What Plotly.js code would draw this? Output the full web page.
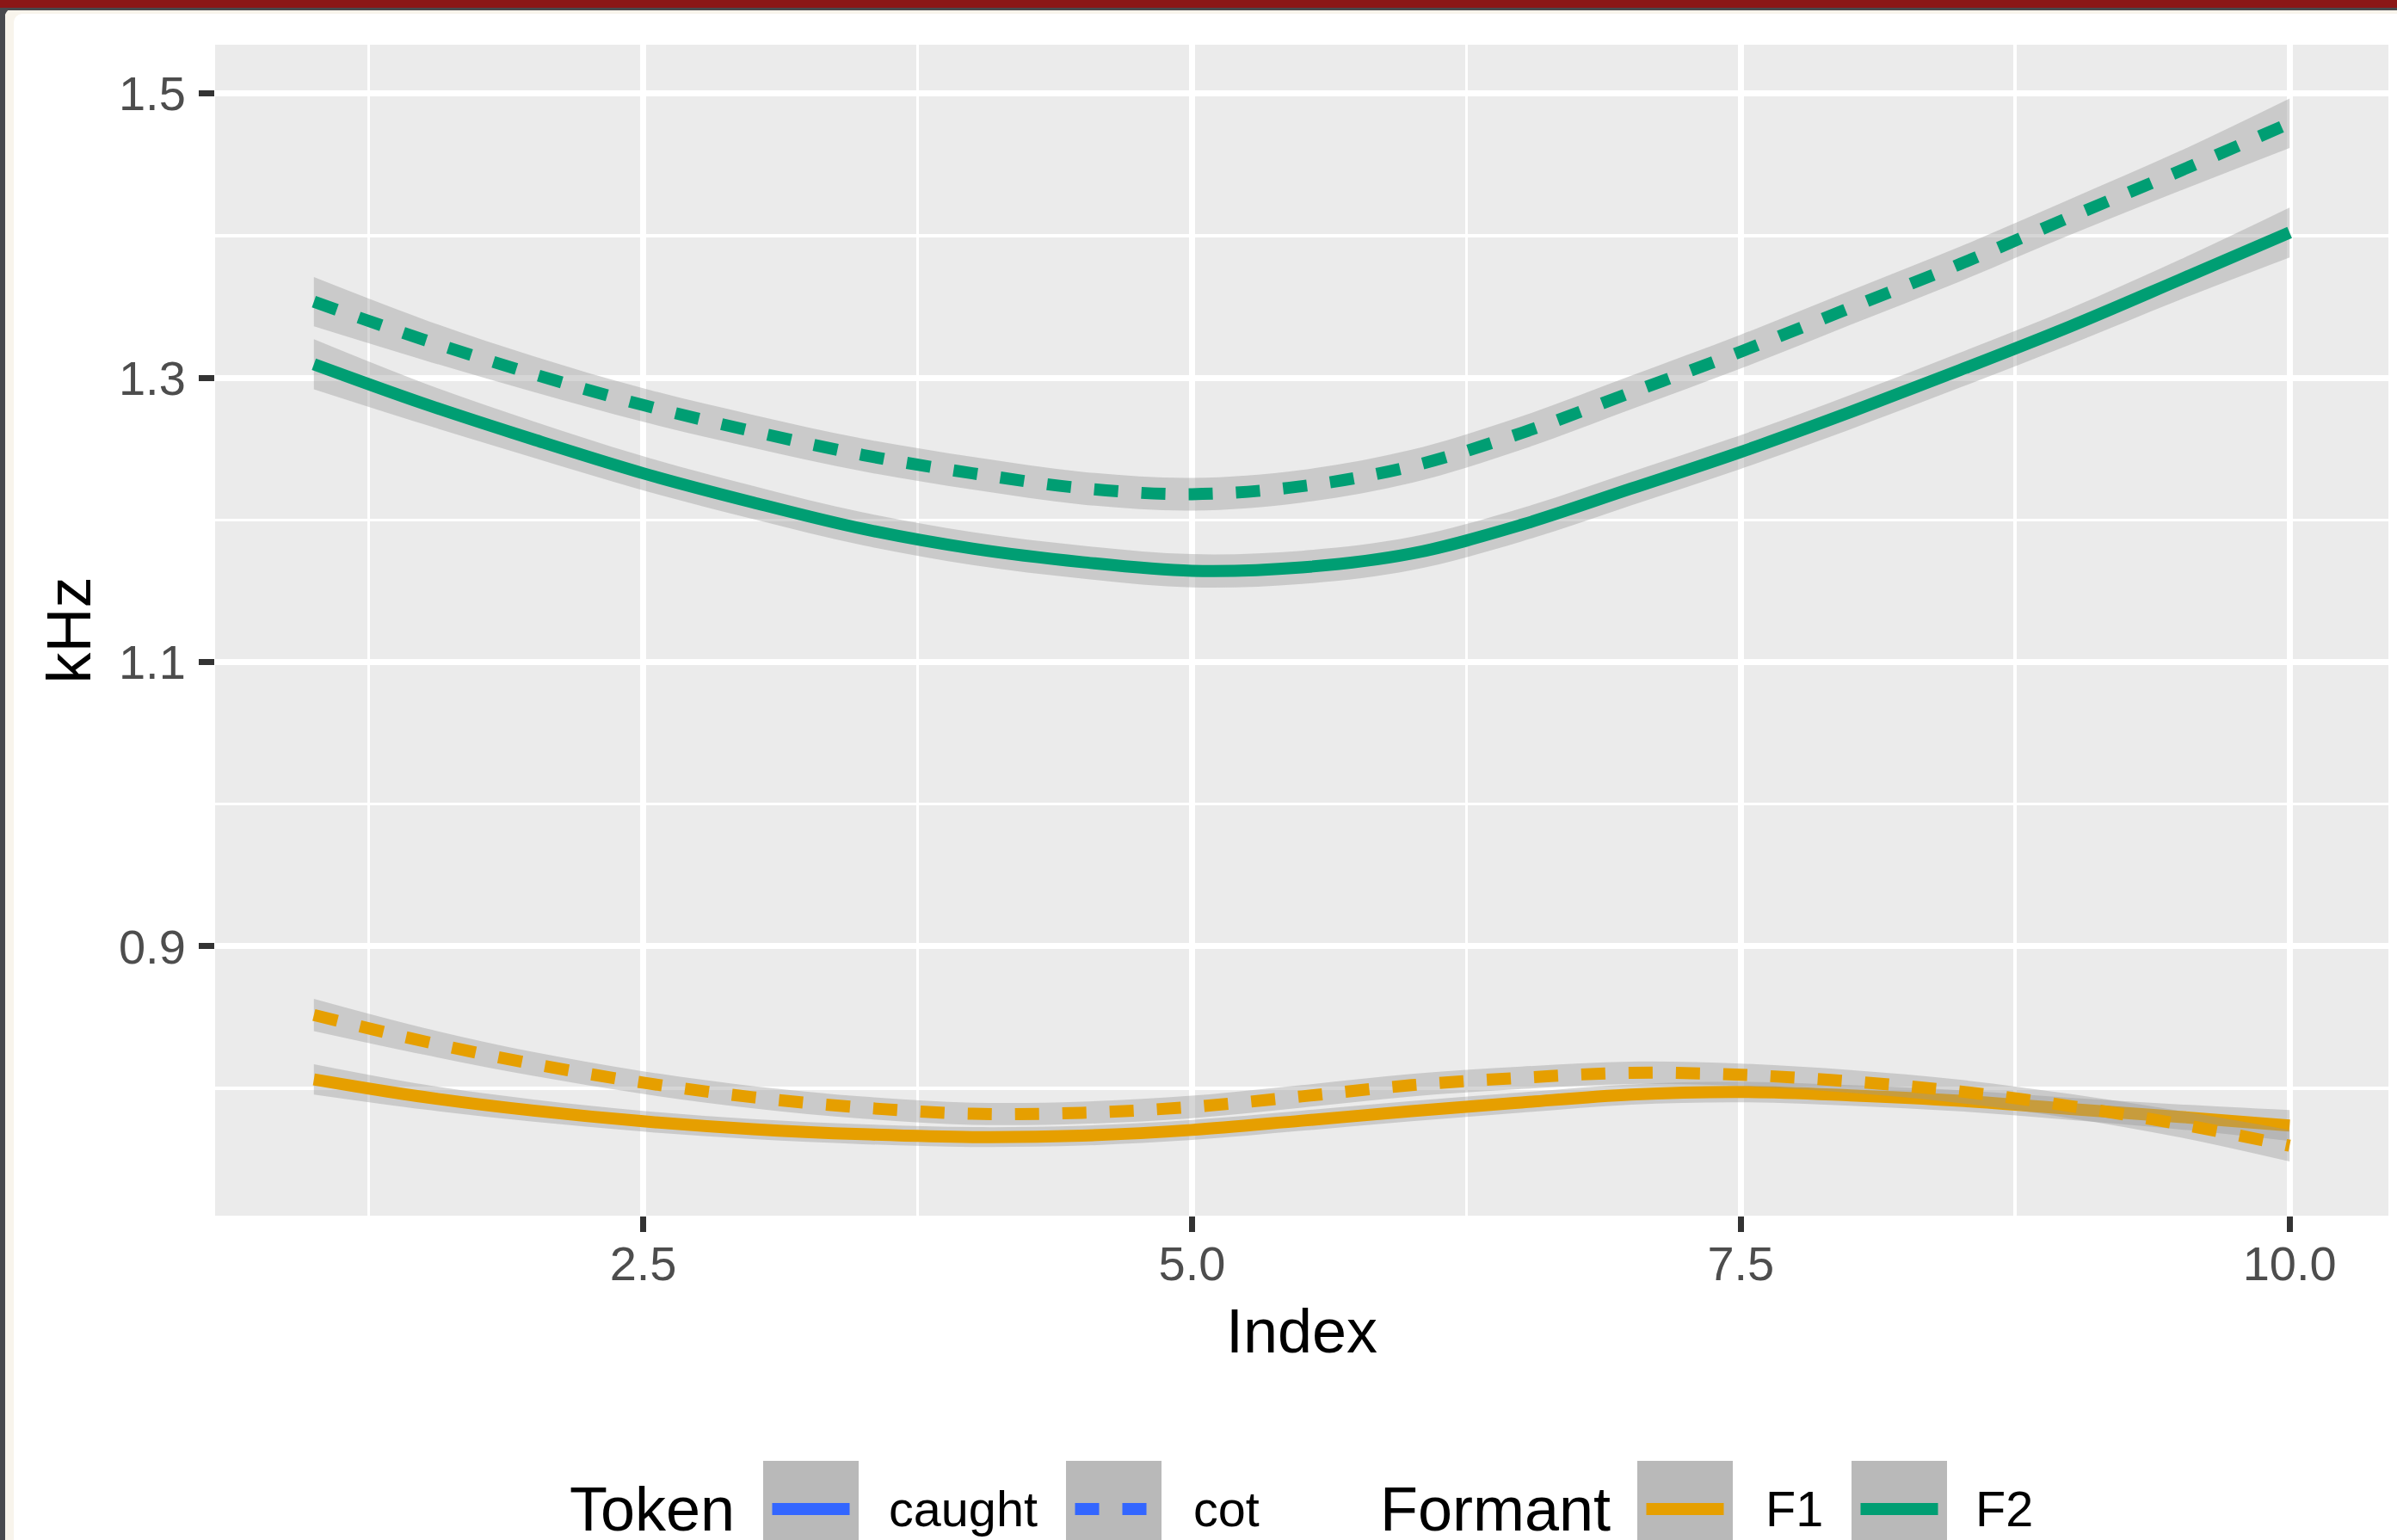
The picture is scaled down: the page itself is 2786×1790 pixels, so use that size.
<!DOCTYPE html>
<html>
<head>
<meta charset="utf-8">
<script src="https://cdn.plot.ly/plotly-3.0.1.min.js"></script>
<style>
html,body{margin:0;padding:0;background:#ffffff;overflow:hidden;width:2786px;height:1790px}
#chart{position:absolute;left:0;top:0;width:2786px;height:1790px}
.fr{position:absolute;pointer-events:none}
</style>
</head>
<body>
<div id="chart"></div>
<div class="fr" style="left:0;top:9px;width:16px;height:16px;background:#48494E;z-index:9"></div>
<div class="fr" style="left:16px;top:16px;width:2790px;height:1800px;border-top-left-radius:10px;box-shadow:0 0 0 12px #F8F4EC;z-index:10"></div>
<div class="fr" style="left:0;top:0;width:2786px;height:9px;background:#8B1717;z-index:12"></div>
<div class="fr" style="left:0;top:9px;width:2786px;height:3px;background:#48494E;z-index:11"></div>
<div class="fr" style="left:0;top:9px;width:6px;height:1781px;background:#48494E;z-index:11"></div>
<script>
// ---- data ----
const indexX = [1, 1.5, 2, 2.5, 3, 3.5, 4, 4.5, 5, 5.5, 6, 6.5, 7, 7.5, 8, 8.5, 9, 9.5, 10];

const f1Caught   = [0.8064, 0.7940, 0.7844, 0.7769, 0.7714, 0.7678, 0.7658, 0.7668, 0.7708, 0.7773, 0.7840, 0.7901, 0.7957, 0.7975, 0.7951, 0.7913, 0.7856, 0.7800, 0.7739];
const f1CaughtSe = [0.0107, 0.0088, 0.0078, 0.0073, 0.0071, 0.0070, 0.0070, 0.0070, 0.0071, 0.0071, 0.0071, 0.0071, 0.0071, 0.0072, 0.0072, 0.0074, 0.0078, 0.0088, 0.0109];

const f1Cot      = [0.8517, 0.8332, 0.8172, 0.8041, 0.7938, 0.7865, 0.7822, 0.7829, 0.7870, 0.7944, 0.8023, 0.8075, 0.8110, 0.8096, 0.8049, 0.7979, 0.7876, 0.7749, 0.7597];
const f1CotSe    = [0.0113, 0.0094, 0.0084, 0.0080, 0.0078, 0.0078, 0.0078, 0.0078, 0.0079, 0.0079, 0.0079, 0.0079, 0.0079, 0.0079, 0.0080, 0.0082, 0.0085, 0.0093, 0.0111];

const f2Caught   = [1.3095, 1.2818, 1.2566, 1.2328, 1.2123, 1.1937, 1.1798, 1.1703, 1.1642, 1.1666, 1.1763, 1.1965, 1.2220, 1.2478, 1.2759, 1.3055, 1.3361, 1.3690, 1.4022];
const f2CaughtSe = [0.0176, 0.0145, 0.0128, 0.0120, 0.0117, 0.0116, 0.0116, 0.0116, 0.0117, 0.0117, 0.0117, 0.0117, 0.0118, 0.0119, 0.0121, 0.0123, 0.0127, 0.0141, 0.0175];

const f2Cot      = [1.3535, 1.3268, 1.3026, 1.2808, 1.2623, 1.2457, 1.2328, 1.2223, 1.2181, 1.2237, 1.2377, 1.2611, 1.2896, 1.3184, 1.3493, 1.3801, 1.4131, 1.4455, 1.4791];
const f2CotSe    = [0.0173, 0.0143, 0.0126, 0.0118, 0.0116, 0.0115, 0.0115, 0.0115, 0.0115, 0.0115, 0.0116, 0.0117, 0.0118, 0.0119, 0.0120, 0.0122, 0.0126, 0.0140, 0.0174];

const tokenLevels   = ['caught', 'cot'];
const formantLevels = ['F1', 'F2'];
const xTickVals = [2.5, 5.0, 7.5, 10.0];
const xTickText = ['2.5', '5.0', '7.5', '10.0'];
const xMinorVals = [1.25, 3.75, 6.25, 8.75];
const yTickVals = [0.9, 1.1, 1.3, 1.5];
const yTickText = ['0.9', '1.1', '1.3', '1.5'];
const yMinorVals = [0.8, 1.0, 1.2, 1.4];

// ---- styles ----
const formantColor = {F1: '#E69F00', F2: '#009E73'};
const tokenDash = {caught: 'solid', cot: '28px,27px'};
const ribbonFill = 'rgba(153,153,153,0.4)';
const LW = 14;
const FONT = 'Liberation Sans, Arial, sans-serif';

const groups = [
  {formant: 'F1', token: 'caught', y: f1Caught, se: f1CaughtSe},
  {formant: 'F1', token: 'cot',    y: f1Cot,    se: f1CotSe},
  {formant: 'F2', token: 'caught', y: f2Caught, se: f2CaughtSe},
  {formant: 'F2', token: 'cot',    y: f2Cot,    se: f2CotSe}
];

const traces = [];
groups.forEach(g => {
  const lo = g.y.map((v, i) => v - g.se[i]);
  const hi = g.y.map((v, i) => v + g.se[i]);
  traces.push({x: indexX, y: lo, type: 'scatter', mode: 'lines',
    line: {width: 0, shape: 'spline', smoothing: 1}, hoverinfo: 'skip', showlegend: false});
  traces.push({x: indexX, y: hi, type: 'scatter', mode: 'lines', fill: 'tonexty', fillcolor: ribbonFill,
    line: {width: 0, shape: 'spline', smoothing: 1}, hoverinfo: 'skip', showlegend: false});
  traces.push({x: indexX, y: g.y, type: 'scatter', mode: 'lines',
    name: g.formant + ' ' + g.token,
    line: {color: formantColor[g.formant], width: LW, dash: tokenDash[g.token], shape: 'spline', smoothing: 1},
    showlegend: false});
});

// ---- layout geometry (pixels of the 2786x1790 canvas) ----
const W = 2786, H = 1790;
const PL = 250, PR = 2776, PT = 52, PB = 1413;
const px = X => (X - PL) / (PR - PL);
const py = Y => (PB - Y) / (PB - PT);

const shapes = [];
const annotations = [];
const keyTop = 1698, keyBot = 1810, keyMid = 1754, keyW = 111;
const txt = (text, X, size, boxH) => annotations.push({
  text: text, xref: 'paper', yref: 'paper', x: px(X), y: py(keyMid),
  xanchor: 'left', yanchor: 'middle', valign: 'middle', showarrow: false,
  height: boxH,
  font: {size: size, color: '#000000', family: FONT}
});
const key = (X, color, dash) => {
  shapes.push({type: 'rect', xref: 'paper', yref: 'paper', x0: px(X), x1: px(X + keyW),
    y0: py(keyBot), y1: py(keyTop), fillcolor: '#B9B9B9', line: {width: 0}, layer: 'above'});
  shapes.push({type: 'line', xref: 'paper', yref: 'paper', x0: px(X + 10.5), x1: px(X + keyW - 10.5),
    y0: py(keyMid), y1: py(keyMid), line: {color: color, width: LW, dash: dash}, layer: 'above'});
};
txt('Token', 660, 72, 66);
key(887, '#3366FF', tokenDash[tokenLevels[0]]);
txt(tokenLevels[0], 1031, 57.6, 66);
key(1239, '#3366FF', tokenDash[tokenLevels[1]]);
txt(tokenLevels[1], 1385, 57.6, 66);
txt('Formant', 1602, 72, 66);
key(1903, formantColor[formantLevels[0]], 'solid');
txt(formantLevels[0], 2050, 57.6, 66);
key(2152, formantColor[formantLevels[1]], 'solid');
txt(formantLevels[1], 2294, 57.6, 66);

const axisCommon = {
  tickmode: 'array', ticks: 'outside', ticklen: 18, tickwidth: 7, tickcolor: '#333333',
  tickfont: {size: 56, color: '#4D4D4D', family: FONT},
  showgrid: true, gridcolor: '#FFFFFF', gridwidth: 7, zeroline: false, showline: false,
  automargin: false, fixedrange: true
};

const layout = {
  width: W, height: H,
  margin: {l: PL, r: W - PR, t: PT, b: H - PB, pad: 0},
  paper_bgcolor: '#FFFFFF', plot_bgcolor: '#EBEBEB',
  showlegend: false,
  font: {family: FONT},
  xaxis: Object.assign({}, axisCommon, {
    range: [0.55, 10.45], tickvals: xTickVals, ticktext: xTickText, ticklabelstandoff: -11,
    minor: {tickmode: 'array', tickvals: xMinorVals, showgrid: true, gridcolor: '#FFFFFF', gridwidth: 3.5, ticks: ''},
    title: {text: 'Index', font: {size: 72, color: '#000000'}, standoff: 22}
  }),
  yaxis: Object.assign({}, axisCommon, {
    range: [0.7105, 1.5343], tickvals: yTickVals, ticktext: yTickText, ticklabelstandoff: 4,
    minor: {tickmode: 'array', tickvals: yMinorVals, showgrid: true, gridcolor: '#FFFFFF', gridwidth: 3.5, ticks: ''},
    title: {text: 'kHz', font: {size: 72, color: '#000000'}, standoff: 8}
  }),
  shapes: shapes,
  annotations: annotations
};

Plotly.newPlot('chart', traces, layout, {staticPlot: true, displayModeBar: false});
</script>
</body>
</html>
